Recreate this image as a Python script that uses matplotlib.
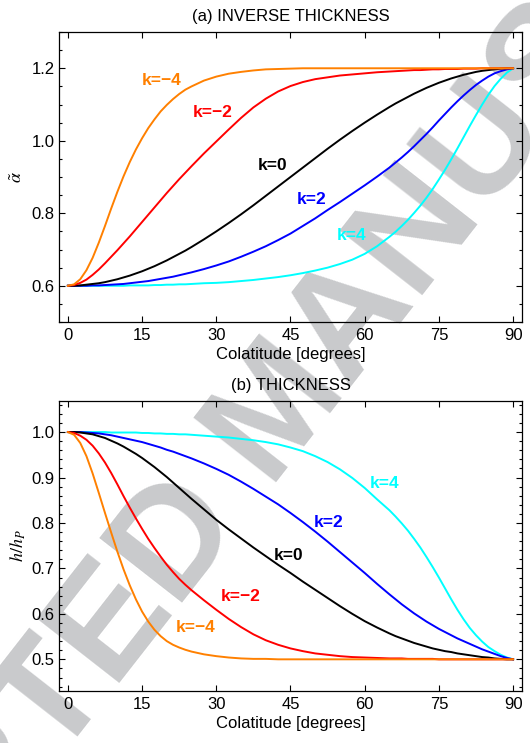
import matplotlib
matplotlib.use("Agg")
import matplotlib.pyplot as plt
from matplotlib.ticker import MultipleLocator

plt.rcParams['font.family'] = ['Liberation Sans', 'DejaVu Sans']
plt.rcParams['mathtext.fontset'] = 'stix'

# colatitude grid (degrees): finer near the poles/equator where curves bend fast
colat = [0, 1.25, 2.5, 3.75, 5, 6.25, 7.5, 8.75, 10, 11.25, 12.5, 13.75, 15,
         16.25, 17.5, 18.75, 20, 21.25, 22.5, 23.75, 25,
         27.5, 30, 32.5, 35, 37.5, 40, 42.5, 45, 47.5, 50, 52.5, 55, 57.5, 60, 62.5,
         65, 66.25, 67.5, 68.75, 70, 71.25, 72.5, 73.75, 75, 76.25, 77.5, 78.75,
         80, 81.25, 82.5, 83.75, 85, 86.25, 87.5, 88.75, 90]

# (a) inverse thickness
alpha_km4 = [0.600, 0.604, 0.618, 0.643, 0.677, 0.719, 0.765, 0.813, 0.859, 0.902,
             0.941, 0.976, 1.007, 1.035, 1.059, 1.081, 1.099, 1.115, 1.129, 1.141, 1.150,
             1.166, 1.177, 1.185, 1.190, 1.194, 1.197, 1.198, 1.199, 1.200, 1.200,
             1.200, 1.200, 1.200, 1.200, 1.200,
             1.200, 1.200, 1.200, 1.200, 1.200, 1.200, 1.200, 1.200, 1.200, 1.200,
             1.200, 1.200, 1.200, 1.200, 1.200, 1.200, 1.200, 1.200, 1.200, 1.200, 1.200]
alpha_km2 = [0.600, 0.602, 0.608, 0.617, 0.630, 0.645, 0.662, 0.680, 0.698, 0.717,
             0.736, 0.756, 0.776, 0.796, 0.816, 0.836, 0.856, 0.875, 0.894, 0.912, 0.930,
             0.965, 0.998, 1.031, 1.063, 1.092, 1.116, 1.136, 1.151, 1.162, 1.170,
             1.175, 1.180, 1.183, 1.186, 1.189,
             1.191, 1.192, 1.193, 1.194, 1.195, 1.195, 1.196, 1.197, 1.197, 1.198,
             1.198, 1.198, 1.199, 1.199, 1.199, 1.200, 1.200, 1.200, 1.200, 1.200, 1.200]
alpha_k0 = [0.600, 0.600, 0.601, 0.603, 0.605, 0.607, 0.610, 0.614, 0.618, 0.623,
            0.628, 0.634, 0.640, 0.647, 0.654, 0.662, 0.670, 0.679, 0.688, 0.697, 0.707,
            0.728, 0.750, 0.773, 0.797, 0.822, 0.848, 0.874, 0.900, 0.926, 0.952,
            0.978, 1.003, 1.027, 1.050, 1.072,
            1.093, 1.103, 1.112, 1.121, 1.130, 1.138, 1.146, 1.153, 1.160, 1.166,
            1.172, 1.177, 1.182, 1.186, 1.190, 1.193, 1.195, 1.197, 1.199, 1.200, 1.200]
alpha_k2 = [0.600, 0.600, 0.600, 0.600, 0.601, 0.601, 0.602, 0.603, 0.604, 0.605,
            0.607, 0.609, 0.611, 0.613, 0.616, 0.619, 0.622, 0.625, 0.629, 0.633, 0.637,
            0.646, 0.656, 0.667, 0.680, 0.694, 0.709, 0.726, 0.744, 0.765, 0.786,
            0.809, 0.831, 0.854, 0.877, 0.901,
            0.926, 0.940, 0.954, 0.969, 0.985, 1.002, 1.019, 1.037, 1.056, 1.074,
            1.092, 1.109, 1.125, 1.140, 1.154, 1.166, 1.177, 1.186, 1.192, 1.197, 1.200]
alpha_k4 = [0.600, 0.600, 0.600, 0.600, 0.600, 0.600, 0.600, 0.600, 0.600, 0.600,
            0.601, 0.601, 0.601, 0.601, 0.602, 0.602, 0.603, 0.603, 0.604, 0.604, 0.605,
            0.607, 0.608, 0.610, 0.613, 0.616, 0.620, 0.624, 0.629, 0.635, 0.642,
            0.650, 0.660, 0.672, 0.688, 0.709,
            0.735, 0.749, 0.765, 0.782, 0.801, 0.821, 0.843, 0.867, 0.893, 0.920,
            0.949, 0.979, 1.010, 1.041, 1.071, 1.100, 1.127, 1.151, 1.171, 1.188, 1.200]

# (b) thickness h/hP
h_km4 = [1.000, 0.994, 0.976, 0.947, 0.909, 0.866, 0.822, 0.779, 0.737, 0.698,
         0.663, 0.632, 0.605, 0.583, 0.565, 0.551, 0.540, 0.532, 0.526, 0.521, 0.517,
         0.511, 0.507, 0.504, 0.502, 0.501, 0.501, 0.500, 0.500, 0.500, 0.500,
         0.500, 0.500, 0.500, 0.500, 0.500,
         0.500, 0.500, 0.500, 0.500, 0.500, 0.500, 0.500, 0.500, 0.500, 0.500,
         0.500, 0.500, 0.500, 0.500, 0.500, 0.500, 0.500, 0.500, 0.500, 0.500, 0.500]
h_km2 = [1.000, 0.998, 0.992, 0.983, 0.970, 0.953, 0.933, 0.910, 0.885, 0.859,
         0.834, 0.810, 0.787, 0.765, 0.745, 0.726, 0.708, 0.692, 0.677, 0.664, 0.652,
         0.630, 0.609, 0.589, 0.571, 0.555, 0.542, 0.532, 0.524, 0.518, 0.513,
         0.510, 0.507, 0.505, 0.504, 0.503,
         0.502, 0.502, 0.502, 0.501, 0.501, 0.501, 0.501, 0.501, 0.500, 0.500,
         0.500, 0.500, 0.500, 0.500, 0.500, 0.500, 0.500, 0.500, 0.500, 0.500, 0.500]
h_k0 = [1.000, 1.000, 0.999, 0.997, 0.995, 0.991, 0.987, 0.981, 0.975, 0.968,
        0.960, 0.952, 0.943, 0.933, 0.923, 0.912, 0.901, 0.889, 0.877, 0.865, 0.853,
        0.830, 0.807, 0.786, 0.766, 0.746, 0.727, 0.708, 0.690, 0.671, 0.653,
        0.635, 0.617, 0.600, 0.584, 0.570,
        0.557, 0.551, 0.546, 0.541, 0.536, 0.532, 0.528, 0.524, 0.521, 0.518,
        0.516, 0.513, 0.511, 0.509, 0.507, 0.505, 0.504, 0.502, 0.501, 0.500, 0.500]
h_k2 = [1.000, 1.000, 1.000, 0.999, 0.998, 0.997, 0.995, 0.993, 0.990, 0.987,
        0.984, 0.981, 0.978, 0.974, 0.970, 0.966, 0.961, 0.957, 0.952, 0.947, 0.942,
        0.931, 0.919, 0.906, 0.891, 0.875, 0.858, 0.841, 0.822, 0.802, 0.781,
        0.759, 0.736, 0.713, 0.690, 0.666,
        0.643, 0.632, 0.621, 0.611, 0.601, 0.592, 0.583, 0.575, 0.567, 0.560,
        0.553, 0.546, 0.540, 0.534, 0.528, 0.522, 0.517, 0.512, 0.507, 0.503, 0.500]
h_k4 = [1.000, 1.000, 1.000, 1.000, 1.000, 1.000, 1.000, 0.999, 0.999, 0.999,
        0.999, 0.999, 0.998, 0.998, 0.997, 0.997, 0.996, 0.996, 0.995, 0.995, 0.994,
        0.992, 0.990, 0.988, 0.985, 0.982, 0.978, 0.973, 0.966, 0.958, 0.947,
        0.934, 0.918, 0.899, 0.877, 0.852,
        0.828, 0.814, 0.799, 0.783, 0.765, 0.746, 0.725, 0.703, 0.680, 0.656,
        0.632, 0.609, 0.588, 0.569, 0.553, 0.539, 0.527, 0.518, 0.510, 0.504, 0.500]

k_labels = ['k=\u22124', 'k=\u22122', 'k=0', 'k=2', 'k=4']
colors = ['#ff8000', '#ff0000', '#000000', '#0000ff', '#00ffff']

# label positions (colatitude, value)
pos_a = [(18.9, 1.167), (29.2, 1.077), (41.3, 0.931), (49.2, 0.839), (57.3, 0.739)]
pos_b = [(25.8, 0.570), (35.0, 0.638), (44.7, 0.729), (52.7, 0.800), (64.1, 0.887)]

fig = plt.figure(figsize=(5.30, 7.43), dpi=100)

# watermark behind the axes
fig.text(0.590, 0.412, 'ACCEPTED MANUSCRIPT', rotation=52, rotation_mode='anchor',
         ha='center', va='baseline', fontsize=110, fontweight='bold',
         color='#c9cacc', zorder=-1)

ax1 = fig.add_axes([0.1113, 0.5666, 0.8736, 0.3903])
ax2 = fig.add_axes([0.1113, 0.0704, 0.8736, 0.3903])


def style_axes(ax, ymaj, ymin):
    ax.set_facecolor('none')
    ax.set_xlim(-1.8, 91.8)
    ax.xaxis.set_major_locator(MultipleLocator(15))
    ax.yaxis.set_major_locator(MultipleLocator(ymaj))
    ax.yaxis.set_minor_locator(MultipleLocator(ymin))
    ax.tick_params(which='both', direction='in', top=True, right=True,
                   labelsize=12, width=0.8)
    ax.tick_params(which='major', length=4.5)
    ax.tick_params(which='minor', length=2.5)
    ax.tick_params(axis='x', pad=4.5)
    ax.tick_params(axis='y', pad=3)
    for s in ax.spines.values():
        s.set_linewidth(0.9)
    ax.set_xlabel('Colatitude [degrees]', fontsize=12, labelpad=3)


top_curves = [alpha_km4, alpha_km2, alpha_k0, alpha_k2, alpha_k4]
bot_curves = [h_km4, h_km2, h_k0, h_k2, h_k4]

for i in range(4, -1, -1):
    ax1.plot(colat, top_curves[i], color=colors[i], lw=1.4)
    ax2.plot(colat, bot_curves[i], color=colors[i], lw=1.4)

for lab, c, (x, y) in zip(k_labels, colors, pos_a):
    ax1.text(x, y, lab, color=c, fontsize=12.5, fontweight='bold',
             ha='center', va='center')
for lab, c, (x, y) in zip(k_labels, colors, pos_b):
    ax2.text(x, y, lab, color=c, fontsize=12.5, fontweight='bold',
             ha='center', va='center')

style_axes(ax1, 0.2, 0.05)
ax1.set_ylim(0.5, 1.3)
ax1.set_yticks([0.6, 0.8, 1.0, 1.2])
ax1.set_yticklabels(['0.6', '0.8', '1.0', '1.2'])
ax1.set_ylabel(r'$\tilde{\alpha}$', fontsize=13, labelpad=4)
ax1.set_title('(a) INVERSE THICKNESS', fontsize=12, pad=8)

style_axes(ax2, 0.1, 0.02)
ax2.set_ylim(0.431, 1.069)
ax2.set_yticks([0.5, 0.6, 0.7, 0.8, 0.9, 1.0])
ax2.set_yticklabels(['0.5', '0.6', '0.7', '0.8', '0.9', '1.0'])
ax2.set_ylabel(r'$h/h_P$', fontsize=13, labelpad=3)
ax2.set_title('(b) THICKNESS', fontsize=12, pad=8)

fig.savefig('out.png', dpi=100)
